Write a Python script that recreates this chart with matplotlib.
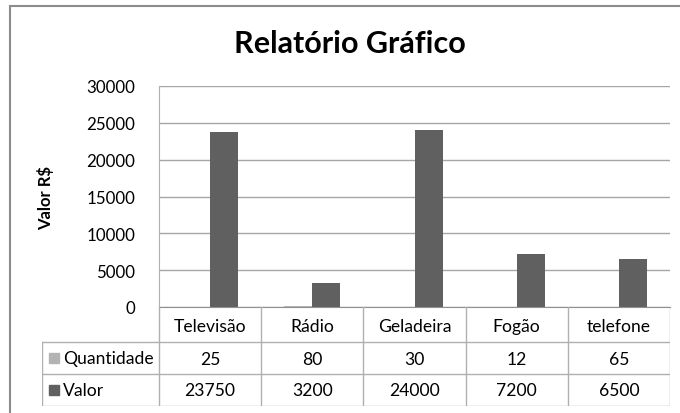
import numpy as np
import matplotlib
matplotlib.use("Agg")
import matplotlib.pyplot as plt
from matplotlib.patches import Rectangle

# data
categories = ["Televisão", "Rádio", "Geladeira", "Fogão", "telefone"]
series_names = ["Quantidade", "Valor"]
quantidade = [25, 80, 30, 12, 65]
valor = [23750, 3200, 24000, 7200, 6500]
yticks = [0, 5000, 10000, 15000, 20000, 25000, 30000]

colors = {"Quantidade": "#b3b3b3", "Valor": "#606060"}
grid_c = "#a6a6a6"
line_c = "#b0b0b0"
font = "Lato"
fs = 12.6

W, H = 680, 414
fig = plt.figure(figsize=(W / 100, H / 100), dpi=100)

def px(x0, y0, x1, y1):
    # pixel box -> figure fraction rect
    return [x0 / W, 1 - y1 / H, (x1 - x0) / W, (y1 - y0) / H]

# outer chart border (right/bottom edges fall outside the image)
fig.patches.append(Rectangle((10 / W, -0.1), 1.2, 1 - 7 / H + 0.1, transform=fig.transFigure,
                             fill=False, ec="#8c8c8c", lw=1.5))

# plot area
L, R, T, B = 159, 670, 87, 308
ax = fig.add_axes(px(L, T, R, B))
x = np.arange(len(categories))
bw = 0.275
ax.bar(x - bw / 2, quantidade, bw, color=colors["Quantidade"])
ax.bar(x + bw / 2, valor, bw, color=colors["Valor"])
ax.set_xlim(-0.5, len(categories) - 0.5)
ax.set_ylim(0, 30000)
ax.set_yticks(yticks)
ax.set_yticklabels([str(v) for v in yticks], fontsize=12.2, family=font)
ax.set_xticks([])
ax.yaxis.grid(True, color=grid_c, lw=1)
ax.set_axisbelow(True)
for s in ["top", "right"]:
    ax.spines[s].set_visible(False)
ax.spines["left"].set_color(line_c)
ax.spines["bottom"].set_color("#909090")
ax.tick_params(axis="y", length=0, pad=17)
ax.set_ylabel("Valor R$", fontsize=12, fontweight="bold", family=font)
ax.yaxis.set_label_coords((54 - L) / (R - L), (B - 198) / (B - T))

fig.text(350 / W, 1 - 44 / H, "Relatório Gráfico", ha="center", va="center",
         fontsize=22, fontweight="bold", family=font)

# data table under the axis
TL = 42
rows_y = [308, 343, 375, 407]
tab = fig.add_axes(px(TL, 308, R, 407))
tab.set_xlim(TL, R)
tab.set_ylim(407, 308)
tab.axis("off")
colw = (R - L) / len(categories)
edges = [L + i * colw for i in range(len(categories) + 1)]
for e in edges:
    tab.plot([e, e], [308, 407], color=line_c, lw=1)
tab.plot([TL, TL], [343, 407], color=line_c, lw=1)
for yy in rows_y[1:]:
    tab.plot([TL, R], [yy, yy], color=line_c, lw=1)

for i, c in enumerate(categories):
    cx = (edges[i] + edges[i + 1]) / 2
    tab.text(cx, 327, c, ha="center", va="center", fontsize=fs, family=font)
    tab.text(cx, 360, str(quantidade[i]), ha="center", va="center", fontsize=fs, family=font)
    tab.text(cx, 391, str(valor[i]), ha="center", va="center", fontsize=fs, family=font)

for name, yc in zip(series_names, [359, 391]):
    tab.add_patch(Rectangle((49, yc - 5), 10, 10, color=colors[name]))
    tab.text(63, yc, name, ha="left", va="center", fontsize=fs, family=font)

fig.savefig("out.png", dpi=100)
